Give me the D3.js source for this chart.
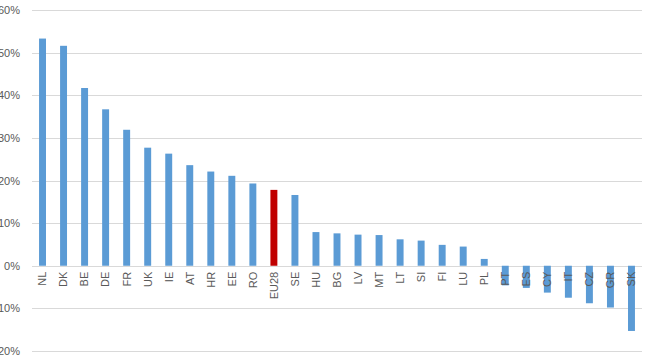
<!DOCTYPE html>
<html>
<head>
<meta charset="utf-8">
<script src="https://cdn.jsdelivr.net/npm/d3@7"></script>
<style>
  body { margin: 0; background: #fff; }
  text { font-family: "Liberation Sans", Arial, sans-serif; fill: #595959; }
</style>
</head>
<body>
<div id="chart"></div>
<script>
  // country codes along the x-axis
  var countries = ['NL', 'DK', 'BE', 'DE', 'FR', 'UK', 'IE', 'AT', 'HR', 'EE', 'RO', 'EU28', 'SE',
    'HU', 'BG', 'LV', 'MT', 'LT', 'SI', 'FI', 'LU', 'PL', 'PT', 'ES', 'CY', 'IT', 'CZ', 'GR', 'SK'];

  // values in percent
  var values = [53.3, 51.6, 41.7, 36.7, 31.9, 27.7, 26.3, 23.6, 22.1, 21.1, 19.3, 17.8, 16.6,
    7.9, 7.6, 7.3, 7.2, 6.2, 5.9, 4.9, 4.5, 1.6, -4.6, -5.2, -6.3, -7.5, -8.8, -9.8, -15.3];

  // tick values for the y-axis
  var yTicks = [-20, -10, 0, 10, 20, 30, 40, 50, 60];

  var highlight = 'EU28';

  var margin = {top: 10, right: 3, bottom: 11, left: 32};
  var width = 645 - margin.left - margin.right;
  var height = 362 - margin.top - margin.bottom;

  var svg = d3.select('#chart')
    .append('svg')
    .attr('width', 645)
    .attr('height', 362)
  .append('g')
    .attr('transform', 'translate(' + margin.left + ',' + margin.top + ')');

  var xScale = d3.scaleBand()
    .domain(countries)
    .range([0, width])
    .paddingInner(0.67)
    .paddingOuter(0.335);

  var yScale = d3.scaleLinear()
    .domain([-20, 60])
    .range([height, 0]);

  // gridlines, also the zero line
  svg.selectAll('.grid')
    .data(yTicks)
    .enter().append('line')
    .attr('class', 'grid')
    .attr('x1', 0)
    .attr('x2', width)
    .attr('y1', function(d){ return Math.round(yScale(d)) + 0.5; })
    .attr('y2', function(d){ return Math.round(yScale(d)) + 0.5; })
    .style('stroke', '#d9d9d9')
    .style('stroke-width', 1);

  // y-axis labels, left of the plot (negatives get cut off at the edge)
  var yAxis = d3.axisLeft(yScale)
    .tickValues(yTicks)
    .tickSize(0)
    .tickPadding(12)
    .tickFormat(function(d){ return d + '%'; });

  var yG = svg.append('g')
    .attr('class', 'y axis')
    .call(yAxis);
  yG.select('.domain').remove();
  yG.selectAll('text')
    .style('font-size', '11px')
    .style('fill', '#595959');

  // bars
  svg.selectAll('.bar')
    .data(values)
    .enter().append('rect')
    .attr('class', 'bar')
    .attr('x', function(d, i){ return xScale(countries[i]); })
    .attr('width', xScale.bandwidth())
    .attr('y', function(d){ return yScale(Math.max(0, d)); })
    .attr('height', function(d){ return Math.abs(yScale(d) - yScale(0)); })
    .style('fill', function(d, i){ return countries[i] === highlight ? '#c00000' : '#5b9bd5'; });

  // category labels, rotated, just under the zero line
  svg.selectAll('.xlabel')
    .data(countries)
    .enter().append('text')
    .attr('class', 'xlabel')
    .attr('transform', function(d){
      return 'translate(' + (xScale(d) + xScale.bandwidth() / 2) + ',' + (yScale(0) + 6) + ') rotate(-90)';
    })
    .attr('dy', '0.35em')
    .attr('text-anchor', 'end')
    .style('font-size', '11px')
    .text(function(d){ return d; });
</script>
</body>
</html>
